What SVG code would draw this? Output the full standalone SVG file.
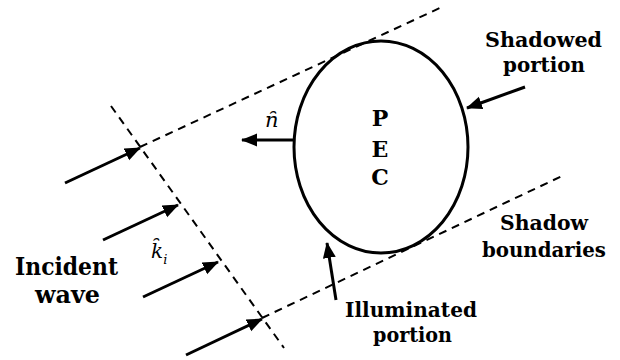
<svg xmlns="http://www.w3.org/2000/svg" width="620" height="360" viewBox="0 0 620 360">
  <style>
    .lbl { font-family: "DejaVu Serif", "Liberation Serif", serif; font-weight: bold; fill: #000; font-size: 21px; text-anchor: middle; }
    .big { font-size: 24px; }
    .pec { font-size: 22px; }
    .math { font-family: "DejaVu Serif", "Liberation Serif", serif; font-style: italic; fill: #000; }
    .dash { stroke: #000; stroke-width: 2; stroke-dasharray: 8 6; fill: none; }
    .arr { stroke: #000; stroke-width: 3; fill: none; marker-end: url(#head); }
  </style>
  <defs>
    <marker id="head" markerUnits="userSpaceOnUse" markerWidth="18" markerHeight="14" refX="15" refY="6.5" orient="auto">
      <path d="M0,0 L16,6.5 L0,13 z" fill="#000"/>
    </marker>
  </defs>
  <rect width="620" height="360" fill="#fff"/>

  <g id="connectors">
    <line class="dash" x1="111" y1="106" x2="284" y2="348"/>
    <line class="dash" x1="140" y1="147" x2="442" y2="7"/>
    <line class="dash" x1="262" y1="318" x2="562" y2="176"/>
    <line class="arr" x1="65" y1="183" x2="140" y2="148"/>
    <line class="arr" x1="103" y1="240" x2="178" y2="205"/>
    <line class="arr" x1="143" y1="297" x2="218" y2="262"/>
    <line class="arr" x1="186" y1="355" x2="262" y2="319"/>
    <line class="arr" x1="294" y1="140" x2="242" y2="140"/>
    <line class="arr" x1="525" y1="87" x2="467" y2="108"/>
    <line class="arr" x1="336" y1="300" x2="327" y2="243"/>
  </g>

  <g id="pec">
    <ellipse cx="381" cy="147" rx="87" ry="106" fill="none" stroke="#000" stroke-width="3"/>
    <text class="lbl pec" x="380" y="126">P</text>
    <text class="lbl pec" x="380" y="157">E</text>
    <text class="lbl pec" x="380" y="185">C</text>
  </g>

  <g id="normal-label">
    <text class="math" x="265" y="127" font-size="21">n&#x0311;</text>
  </g>

  <g id="k-label">
    <text class="math" x="151" y="258" font-size="20">k&#x0311;<tspan font-size="13" dy="6">i</tspan></text>
  </g>

  <g id="incident-wave">
    <text class="lbl big" x="66.5" y="275" textLength="103" lengthAdjust="spacingAndGlyphs">Incident</text>
    <text class="lbl big" x="67.5" y="303" textLength="65" lengthAdjust="spacingAndGlyphs">wave</text>
  </g>

  <g id="shadowed-portion">
    <text class="lbl" x="543.5" y="47" textLength="117" lengthAdjust="spacingAndGlyphs">Shadowed</text>
    <text class="lbl" x="544" y="72" textLength="82" lengthAdjust="spacingAndGlyphs">portion</text>
  </g>

  <g id="shadow-boundaries">
    <text class="lbl" x="544" y="230" textLength="88" lengthAdjust="spacingAndGlyphs">Shadow</text>
    <text class="lbl" x="544" y="257" textLength="124" lengthAdjust="spacingAndGlyphs">boundaries</text>
  </g>

  <g id="illuminated-portion">
    <text class="lbl" x="411" y="317" textLength="132" lengthAdjust="spacingAndGlyphs">Illuminated</text>
    <text class="lbl" x="412.5" y="342" textLength="79" lengthAdjust="spacingAndGlyphs">portion</text>
  </g>
</svg>
